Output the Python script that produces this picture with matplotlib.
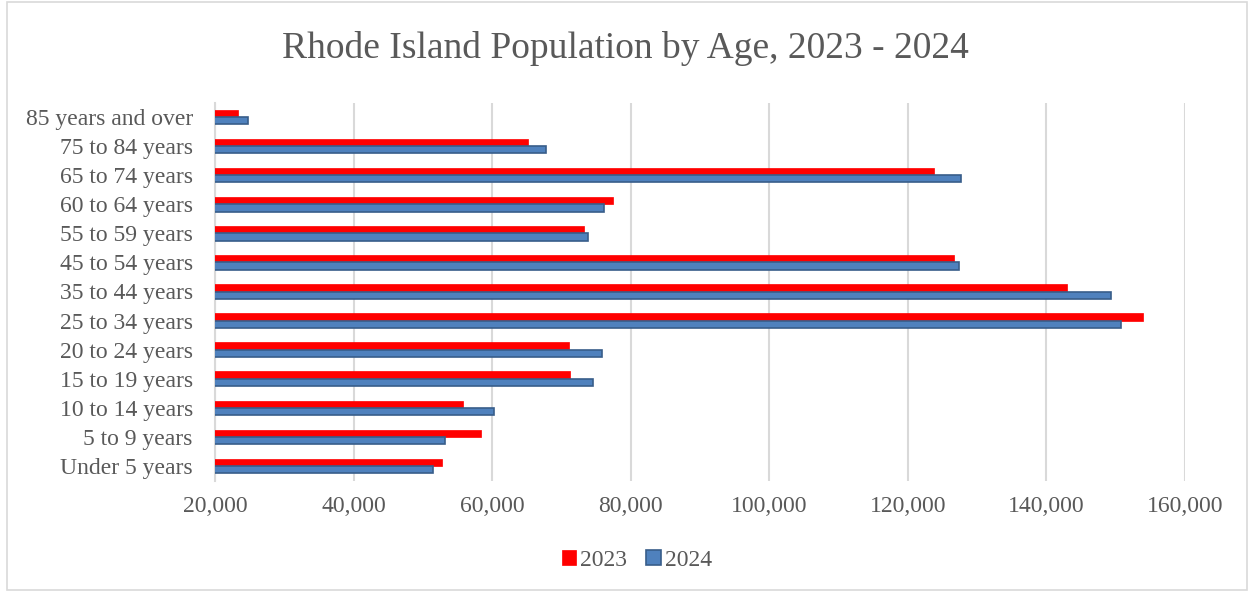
import numpy as np
import matplotlib.pyplot as plt
from matplotlib.patches import Rectangle
from matplotlib.ticker import FuncFormatter

plt.rcParams['font.family'] = ['Liberation Serif', 'DejaVu Serif']

# age groups from bottom to top
ages = ['Under 5 years', '5 to 9 years', '10 to 14 years', '15 to 19 years',
        '20 to 24 years', '25 to 34 years', '35 to 44 years', '45 to 54 years',
        '55 to 59 years', '60 to 64 years', '65 to 74 years', '75 to 84 years',
        '85 years and over']
pop_2023 = [52700, 58400, 55800, 71200, 71100, 153900, 143000, 126600,
            73300, 77500, 123800, 65200, 23300]
pop_2024 = [51400, 53200, 60200, 74600, 75900, 150800, 149300, 127400,
            73800, 76200, 127600, 67800, 24800]

text_col = '#595959'
grid_col = '#D9D9D9'

fig = plt.figure(figsize=(12.5, 5.95), dpi=100)
ax = fig.add_axes([215 / 1250, 1 - 480.5 / 595, 970 / 1250, 378 / 595])

y = np.arange(len(ages))
h = 0.25
ax.barh(y + h / 2, pop_2023, height=h, color='#FF0000',
        edgecolor='#FF0000', linewidth=0.5, label='2023', zorder=3)
ax.barh(y - h / 2, pop_2024, height=h, color='#4F81BD',
        edgecolor='#385D8A', linewidth=1.2, label='2024', zorder=3)

ax.set_xlim(20000, 160000)
ax.set_ylim(-0.5, len(ages) - 0.5)
ax.set_xticks(np.arange(20000, 160001, 20000))
ax.xaxis.set_major_formatter(FuncFormatter(lambda v, p: f'{int(v):,}'))
ax.set_yticks(y)
ax.set_yticklabels(ages)
ax.tick_params(axis='both', length=0, labelsize=17, colors=text_col)
ax.tick_params(axis='x', pad=11)
ax.tick_params(axis='y', pad=16)
ax.grid(axis='x', color=grid_col, linewidth=1.5, zorder=0)
for s in ['top', 'right', 'bottom']:
    ax.spines[s].set_visible(False)
ax.spines['left'].set_color(grid_col)
ax.spines['left'].set_linewidth(1.5)

fig.suptitle('Rhode Island Population by Age, 2023 - 2024', y=1 - 48 / 595,
             va='center', fontsize=27, color=text_col)

fig.legend(loc='center', bbox_to_anchor=(637 / 1250, 1 - 560 / 595), ncol=2,
           frameon=False, fontsize=17, labelcolor=text_col, handlelength=0.6,
           handleheight=0.6, handletextpad=0.2, columnspacing=0.8)

fig.patches.append(Rectangle((7 / 1250, 5 / 595), 1240 / 1250, 588 / 595,
                             transform=fig.transFigure, fill=False,
                             edgecolor=grid_col, linewidth=1.2))

fig.savefig('out.png', dpi=100)
